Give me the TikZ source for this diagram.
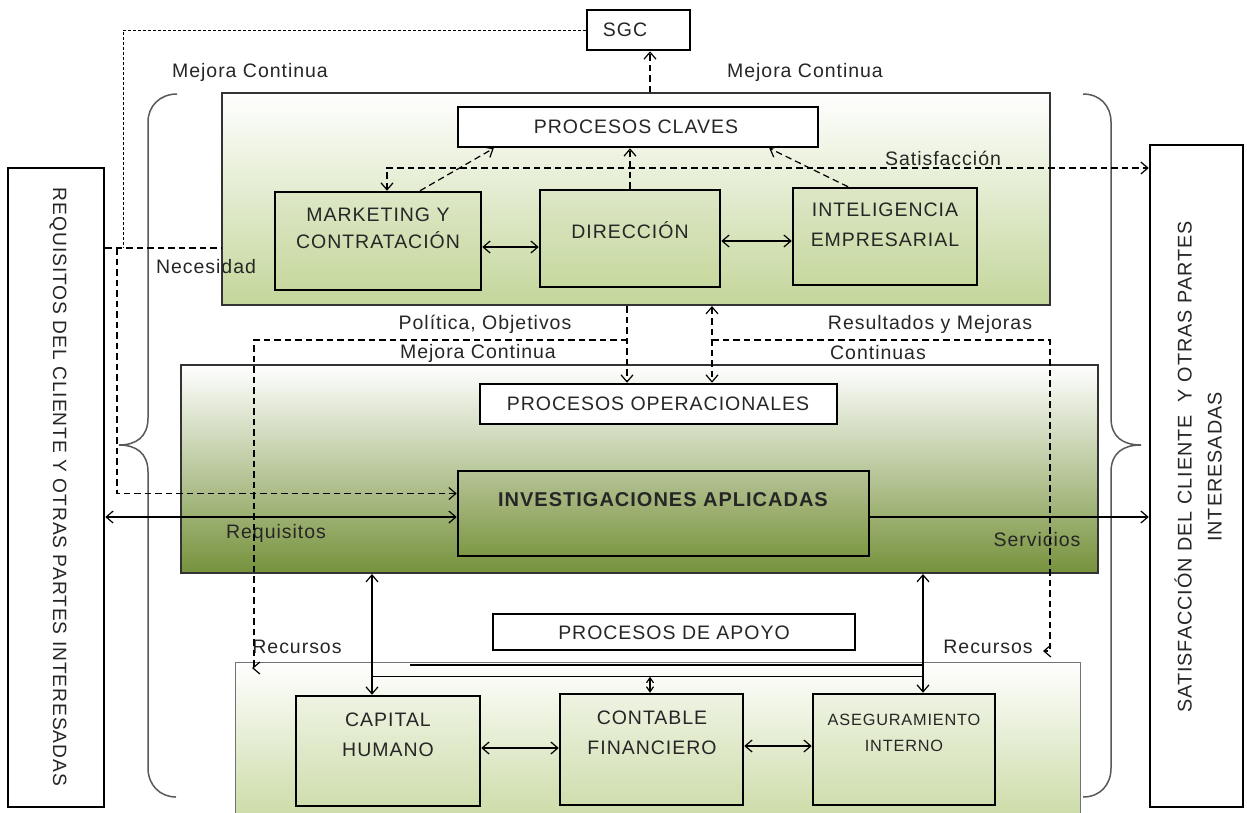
\documentclass[tikz,border=0pt]{standalone}
\usepackage{fontspec}
\setmainfont[LetterSpace=5]{Liberation Sans}
\usetikzlibrary{arrows.meta}
\definecolor{txt}{HTML}{262626}
\definecolor{gA}{HTML}{C3D69B}
\definecolor{gB}{HTML}{76923C}
\definecolor{gMid}{HTML}{D3D8C5}
\definecolor{iTop}{HTML}{DDE7C7}
\definecolor{iBot}{HTML}{C6D89E}
\definecolor{iaTop}{HTML}{B6C396}
\definecolor{iaBot}{HTML}{7D9844}
\definecolor{bBot}{HTML}{CCDCA8}
\definecolor{cTop}{HTML}{EEF3E2}
\definecolor{cBot}{HTML}{CFDEAE}
\begin{document}
\begin{tikzpicture}[x=1pt,y=-1pt,
  every node/.style={font=\fontsize{19.5}{27}\selectfont, text=txt, inner sep=0pt},
  box/.style={draw=black, line width=2.5pt, inner sep=0pt},
  cont/.style={draw=black!80, line width=2pt, inner sep=0pt},
  dsh/.style={line width=1.2pt, dash pattern=on 6.5pt off 4pt, arrows={-Straight Barb[length=7pt,width=12pt]}},
  dshn/.style={line width=1.2pt, dash pattern=on 6.5pt off 4pt},
  dshb/.style={line width=1.2pt, dash pattern=on 6.5pt off 4pt, arrows={Straight Barb[length=7pt,width=12pt]-Straight Barb[length=7pt,width=12pt]}},
  fine/.style={line width=0.9pt, dash pattern=on 3pt off 2pt},
  dbl/.style={line width=1.2pt, arrows={Straight Barb[length=7pt,width=12pt]-Straight Barb[length=7pt,width=12pt]}},
  sgl/.style={line width=1.2pt, arrows={-Straight Barb[length=7pt,width=12pt]}},
  brace/.style={draw=black!65, line width=1.5pt}
]
\useasboundingbox (0,0) rectangle (1247,812);
\fill[white] (0,0) rectangle (1247,812);

% braces
\draw[brace] (177,94) .. controls (160,94) and (148,106) .. (148,122) -- (148,418)
  .. controls (148,437) and (136,445) .. (119,445) .. controls (136,445) and (148,453) .. (148,472)
  -- (148,768) .. controls (148,785) and (160,797) .. (176,797);
\draw[brace] (1083,94) .. controls (1100,94) and (1111,106) .. (1111,122) -- (1111,418)
  .. controls (1111,437) and (1123,445) .. (1141,445) .. controls (1123,445) and (1111,453) .. (1111,472)
  -- (1111,768) .. controls (1111,785) and (1100,797) .. (1083,797);

% side boxes
\node[box, fill=white, minimum width=96, minimum height=639] (L) at (56,487.5) {};
\node[rotate=-90, font=\fontsize{19.2}{27}\selectfont] (tL) at (58,487) {REQUISITOS DEL CLIENTE Y OTRAS PARTES INTERESADAS};
\node[box, fill=white, minimum width=93, minimum height=662] (R) at (1196.5,476) {};
\node[rotate=90, align=center, font=\fontsize{19.8}{30}\selectfont] (tR) at (1198,467) {SATISFACCIÓN DEL CLIENTE\ \ Y OTRAS PARTES\\INTERESADAS};

% SGC
\node[box, fill=white, minimum width=103, minimum height=40] (SGC) at (638.5,30) {};
\node (tSGC) at (625,30) {SGC};

% top container
\node[cont, top color=white, bottom color=gA, minimum width=828, minimum height=212] (T) at (636,199) {};
\node[box, fill=white, minimum width=360, minimum height=40] (PC) at (638,127) {};
\node (tPC) at (636,127) {PROCESOS CLAVES};
\node[box, top color=iTop, bottom color=iBot, minimum width=206, minimum height=98] (MK) at (378,241) {};
\node[align=center] (tMK) at (378,228) {MARKETING Y\\CONTRATACIÓN};
\node[box, top color=iTop, bottom color=iBot, minimum width=180, minimum height=97] (DI) at (630,238.5) {};
\node (tDI) at (630,230) {DIRECCIÓN};
\node[box, top color=iTop, bottom color=iBot, minimum width=184, minimum height=97] (IE) at (885,236.5) {};
\node[align=center, font=\fontsize{19.5}{30}\selectfont] (tIE) at (885,225) {INTELIGENCIA\\EMPRESARIAL};

% middle container
\node[cont, top color=white, middle color=gMid, bottom color=gB, minimum width=917, minimum height=208] (M) at (639.5,469) {};
\node[box, fill=white, minimum width=357, minimum height=40] (PO) at (658.5,404) {};
\node (tPO) at (658,404) {PROCESOS OPERACIONALES};
\node[box, top color=iaTop, bottom color=iaBot, minimum width=411, minimum height=85] (IA) at (663.5,513.5) {};
\node[font=\fontsize{20}{27}\selectfont\bfseries] (tIA) at (663,500) {INVESTIGACIONES APLICADAS};

% bottom container
\node[draw=black!55, line width=1pt, top color=white, bottom color=bBot, minimum width=845, minimum height=154] (B) at (657.5,739) {};
\node[box, fill=white, minimum width=362, minimum height=36] (PA) at (674,632) {};
\node (tPA) at (674,633) {PROCESOS DE APOYO};
\node[box, top color=cTop, bottom color=cBot, minimum width=184, minimum height=110] (CH) at (388,751) {};
\node[align=center, font=\fontsize{19.5}{30}\selectfont] (tCH) at (388,735) {CAPITAL\\HUMANO};
\node[box, top color=cTop, bottom color=cBot, minimum width=183, minimum height=111] (CF) at (651.5,749.5) {};
\node[align=center, font=\fontsize{19.5}{30}\selectfont] (tCF) at (652,733) {CONTABLE\\FINANCIERO};
\node[box, top color=cTop, bottom color=cBot, minimum width=182, minimum height=111] (AI) at (904,749.5) {};
\node[align=center, font=\fontsize{16.3}{26}\selectfont] (tAI) at (904,733) {ASEGURAMIENTO\\INTERNO};

% labels
\node (lmc1) at (250,72) {Mejora Continua};
\node (lmc2) at (805,72) {Mejora Continua};
\node (lsat) at (943,158) {Satisfacción};
\node (lnec) at (206,267) {Necesidad};
\node (lpol) at (485,324) {Política, Objetivos};
\node (lmc3) at (478,353) {Mejora Continua};
\node (lres) at (930,324) {Resultados y Mejoras};
\node[anchor=west] (lcon) at (830,353) {Continuas};
\node (lreq) at (276,533) {Requisitos};
\node (lser) at (1037,540) {Servicios};
\node (lrec1) at (297,647) {Recursos};
\node (lrec2) at (988,647) {Recursos};

% connectors top
\draw[dsh] ([xshift=14pt]T.north) -- ([xshift=14pt]T.north |- SGC.south);
\coordinate (n1) at (123,248);
\coordinate (n2) at (117,248);
\draw[fine] (SGC.west) -| (n1);
\draw[dshn] (L.east |- n1) -- (T.west |- n1);
\draw[dsh] (n2) |- ([yshift=20pt]IA.west);

\draw[dsh] (DI.north) -- (DI.north |- PC.south);
\draw[dsh] ([xshift=42pt]MK.north) -- ([xshift=37pt]PC.south west);
\draw[dsh] ([xshift=-37pt]IE.north) -- ([xshift=-50pt]PC.south east);
\draw[dshb] ([xshift=9pt]MK.north) |- ([yshift=308pt]R.west);

\draw[dbl] ([yshift=-6pt]MK.east) -- ([yshift=-6pt]MK.east -| DI.west);
\draw[dbl] ([yshift=-2.5pt]DI.east) -- ([yshift=-2.5pt]DI.east -| IE.west);

% politica / resultados
\draw[dsh] ([xshift=-9pt]T.south) -- ([xshift=-9pt]T.south |- PO.north);
\coordinate (j1) at (627,340);
\coordinate (rl) at (252,668);
\draw[dsh] (j1) -| ([xshift=2pt]rl) -- (rl);
\draw[dshb] ([xshift=76pt]T.south) -- ([xshift=76pt]T.south |- PO.north);
\coordinate (j2) at (712,340);
\coordinate (rr) at (1043,651);
\draw[dsh] (j2) -| ([xshift=7pt]rr) -- (rr);

% requisitos / servicios
\draw[dbl] ([yshift=-29.5pt]L.east) -- ([yshift=-29.5pt]L.east -| IA.west);
\draw[sgl] ([yshift=-3.5pt]IA.east) -- ([yshift=-3.5pt]IA.east -| R.west);

% bottom
\draw[dbl] ([xshift=-16pt]CH.north) -- ([xshift=-16pt]CH.north |- M.south);
\draw[dbl] ([xshift=19pt]AI.north) -- ([xshift=19pt]AI.north |- M.south);
\draw[line width=1.2pt] ([xshift=-16pt,yshift=18pt]CH.north) -- ([xshift=19pt,yshift=16pt]AI.north);
\draw[line width=1.2pt] (410,665) -- (923,665);
\draw[line width=1.2pt, arrows={Straight Barb[length=5pt,width=7pt]-Straight Barb[length=5pt,width=7pt]}] ([xshift=-1.5pt]CF.north) -- ([xshift=-1.5pt,yshift=16pt]CF.north);
\draw[dbl] ([yshift=3pt]CH.east) -- ([yshift=3pt]CH.east -| CF.west);
\draw[dbl] ([yshift=3.5pt]CF.east) -- ([yshift=3.5pt]CF.east -| AI.west);
\end{tikzpicture}
\end{document}
